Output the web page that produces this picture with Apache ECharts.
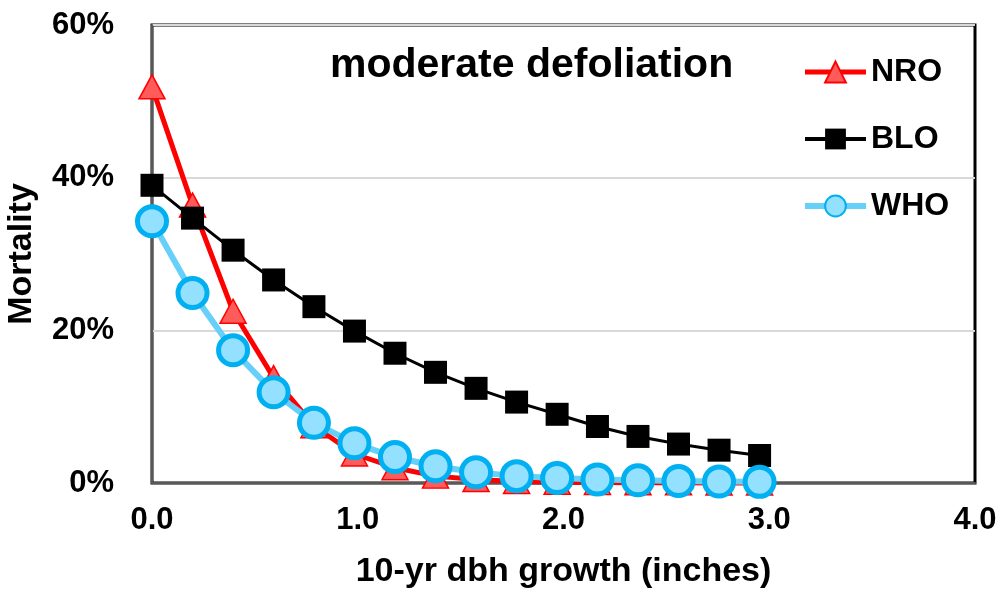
<!DOCTYPE html>
<html>
<head>
<meta charset="utf-8">
<script src="https://cdn.jsdelivr.net/npm/echarts@6/dist/echarts.min.js"></script>
<style>
  html, body { margin: 0; padding: 0; background: #fff; }
  #chart { width: 999px; height: 589px; }
</style>
</head>
<body>
<div id="chart"></div>
<script>
// growth in inches (0.5 cm steps)
var growth = [0, 0.197, 0.394, 0.591, 0.787, 0.984, 1.181, 1.378, 1.575, 1.772, 1.969, 2.165, 2.362, 2.559, 2.756, 2.953];
// mortality, %
var nro = [51.9, 36.4, 22.5, 13.8, 7.5, 3.8, 2.0, 0.9, 0.45, 0.2, 0.1, 0.05, 0.03, 0.02, 0.01, 0.01];
var blo = [39.0, 34.7, 30.5, 26.6, 23.1, 19.9, 17.0, 14.5, 12.4, 10.6, 9.0, 7.4, 6.1, 5.1, 4.3, 3.6];
var who = [34.3, 24.9, 17.4, 11.9, 7.9, 5.2, 3.4, 2.2, 1.4, 0.9, 0.65, 0.45, 0.35, 0.25, 0.2, 0.15];

function pairs(ys) {
  return growth.map(function (x, i) { return [x, ys[i]]; });
}

var font = '"Liberation Sans", Arial, sans-serif';
var myChart = echarts.init(document.getElementById('chart'));

var option = {
  backgroundColor: '#fff',
  animation: false,
  title: {
    text: 'moderate defoliation',
    left: 325, top: 40,
    textStyle: { fontFamily: font, fontSize: 41, fontWeight: 'bold', color: '#000' }
  },
  legend: {
    orient: 'vertical',
    left: 797, top: 51,
    itemWidth: 61, itemHeight: 26, itemGap: 35,
    textStyle: { fontFamily: font, fontSize: 32, lineHeight: 32, fontWeight: 'bold', color: '#000' },
    data: [
      { name: 'NRO', lineStyle: { width: 5 } },
      { name: 'BLO', lineStyle: { width: 4 } },
      { name: 'WHO', lineStyle: { width: 6 } }
    ]
  },
  grid: {
    left: 152, top: 25, right: 24, bottom: 106,
    outerBoundsMode: 'none',
    show: true, borderColor: '#000', borderWidth: 3, backgroundColor: 'transparent'
  },
  xAxis: {
    type: 'value', min: 0, max: 4, interval: 1,
    name: '10-yr dbh growth (inches)', nameLocation: 'middle', nameGap: 72,
    nameTextStyle: { fontFamily: font, fontSize: 34, fontWeight: 'bold', color: '#000' },
    axisLine: { show: true, lineStyle: { color: '#595959', width: 2 } },
    axisTick: { show: false },
    splitLine: { show: false },
    axisLabel: {
      margin: 22, fontFamily: font, fontSize: 31, fontWeight: 'bold', color: '#000',
      formatter: function (v) { return v.toFixed(1); }
    }
  },
  yAxis: {
    type: 'value', min: 0, max: 60, interval: 20,
    name: 'Mortality', nameLocation: 'middle', nameGap: 113,
    nameTextStyle: { fontFamily: font, fontSize: 34, fontWeight: 'bold', color: '#000' },
    axisLine: { show: true, lineStyle: { color: '#595959', width: 2 } },
    axisTick: { show: false },
    splitLine: { show: true, lineStyle: { color: '#d9d9d9', width: 2 } },
    axisLabel: {
      margin: 38, fontFamily: font, fontSize: 31, fontWeight: 'bold', color: '#000',
      formatter: '{value}%'
    }
  },
  series: [
    {
      name: 'NRO', type: 'line', data: pairs(nro), clip: false,
      symbol: 'triangle', symbolSize: [26, 24],
      lineStyle: { color: '#ff0000', width: 5 },
      itemStyle: { color: '#ff5b5b', borderColor: '#ff0000', borderWidth: 1.5 },
      z: 2
    },
    {
      name: 'BLO', type: 'line', data: pairs(blo), clip: false,
      symbol: 'rect', symbolSize: 23,
      lineStyle: { color: '#000', width: 3 },
      itemStyle: { color: '#000', borderColor: '#000', borderWidth: 0 },
      z: 3
    },
    {
      name: 'WHO', type: 'line', data: pairs(who), clip: false,
      symbol: 'circle', symbolSize: 29,
      lineStyle: { color: '#66d0f8', width: 6 },
      itemStyle: { color: '#93e0ff', borderColor: '#00b0f0', borderWidth: 5 },
      z: 4
    }
  ]
};

myChart.setOption(option);
</script>
</body>
</html>
